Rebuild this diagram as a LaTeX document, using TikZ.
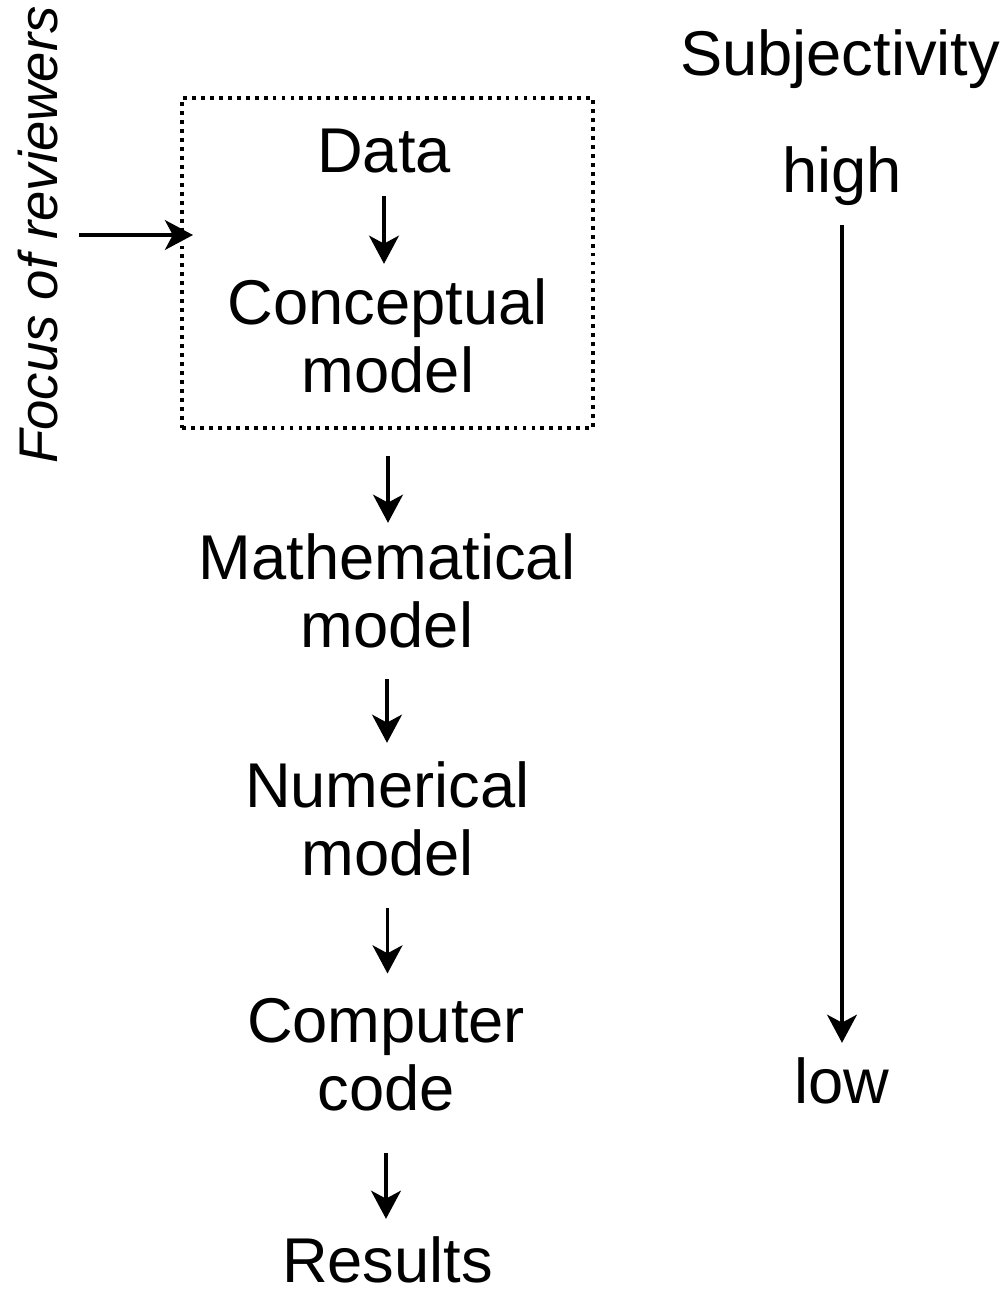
\documentclass[tikz,border=0pt]{standalone}
\usepackage{fontspec}
\setmainfont{Liberation Sans}
\usetikzlibrary{arrows.meta, positioning}

\tikzset{
  stage/.style={font=\fontsize{36}{38.7}\selectfont, align=center, inner sep=0pt, anchor=base},
  flow/.style={-{Stealth[length=16pt, width=17pt, inset=4.5pt]}, line width=1.9pt},
  focusframe/.style={draw, line width=2.2pt, dash pattern=on 2.2pt off 2.9pt, inner sep=0pt}
}

\begin{document}
\begin{tikzpicture}
\useasboundingbox (0,0) rectangle (20.16,-25.94);

% Dotted frame round the first two stages
\node[focusframe, minimum width=8.22cm, minimum height=6.6cm] (frame) at (7.75,-5.26) {};

% Modelling chain (base = last line)
\node[stage] (data) at (7.68,-3.44) {Data};
\node[stage] (concept) at (7.76,-7.84) {Conceptual\\model};
\node[stage] (math) at (7.74,-12.94) {Mathematical\\model};
\node[stage] (num) at (7.75,-17.50) {Numerical\\model};
\node[stage] (code) at (7.72,-22.20) {Computer\\code};
\node[stage] (results) at (7.75,-25.64) {Results};

\draw[flow, shorten <=0.46cm, shorten >=0.28cm] (data.south) -- (data.south |- concept.north);
\draw[flow, shorten <=1.26cm, shorten >=0.2cm] (concept.south) -- (concept.south |- math.north);
\draw[flow, shorten <=0.62cm, shorten >=0.36cm] (math.south) -- (math.south |- num.north);
\draw[flow, shorten <=0.64cm, shorten >=0.48cm] (num.south) -- (num.south |- code.north);
\draw[flow, shorten <=0.84cm, shorten >=0.34cm] (code.south) -- (code.south |- results.north);

% Reviewers
\node[font=\fontsize{31}{36}\selectfont\itshape, rotate=90, anchor=base, inner sep=0pt] (focus) at (1.16,-4.70) {Focus of reviewers};
\coordinate (frameentry) at (3.86,-4.70);
\draw[flow, shorten <=0.4cm] (focus.south) -- (frameentry);

% Subjectivity scale
\node[stage] (subj) at (16.8,-1.5) {Subjectivity};
\node[stage] (high) at (16.84,-3.84) {high};
\node[stage] (low) at (16.84,-22.06) {low};
\draw[flow, shorten <=0.39cm, shorten >=0.28cm] (high.south) -- (low.north);

\end{tikzpicture}
\end{document}
